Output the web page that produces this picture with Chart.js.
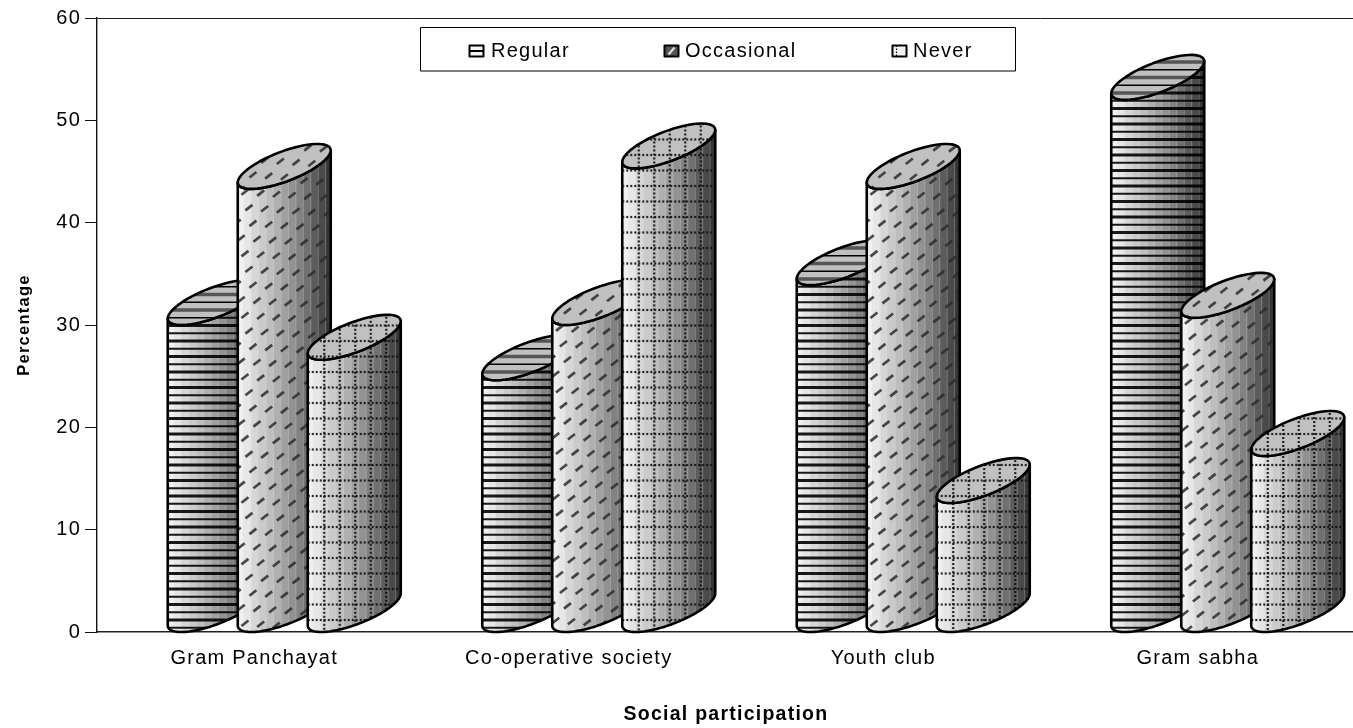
<!DOCTYPE html>
<html><head><meta charset="utf-8">
<script src="https://cdn.jsdelivr.net/npm/chart.js@4"></script>
<style>html,body{margin:0;padding:0;background:#fff;overflow:hidden;width:1353px;height:728px}canvas{display:block}</style>
</head><body><canvas id="c" width="1355" height="728"></canvas>
<script>
const categories = ["Gram Panchayat","Co-operative society","Youth club","Gram sabha"];
const regular = [30.0,24.6,33.9,52.0];
const occasional = [43.3,30.0,43.3,30.7];
const never = [26.6,45.3,12.6,17.2];
const seriesNames = ["Regular","Occasional","Never"];
const yTicks = [0,10,20,30,40,50,60];
const FONT = '"Liberation Sans", Arial, sans-serif';

function pattern(ctx, kind, x0, x1, y0, y1, top){
  ctx.save();
  ctx.setLineDash([]);
  ctx.lineCap='butt';
  if(kind===0){
    let i=Math.floor(y0/7.75);
    for(let y=i*7.75;y<y1;y+=7.75,i++){
      if(top){ctx.strokeStyle=i%2?'#000':'#555';ctx.lineWidth=i%2?1.6:3.4;}
      else {ctx.strokeStyle='#000';ctx.lineWidth=i%2?1.8:3;ctx.globalAlpha=.9;}
      ctx.beginPath();ctx.moveTo(x0,y);ctx.lineTo(x1,y);ctx.stroke();
    }
  } else if(kind===1){
    ctx.strokeStyle='#2c2c2c';ctx.lineWidth=2.7;ctx.globalAlpha=.85;
    let r=0;
    for(let y=y0+4;y<y1+12;y+=15.4,r++){
      for(let x=x0-12+(r%4)*4;x<x1+8;x+=15.7){
        const yy=y+(x-x0)*.07;
        ctx.beginPath();ctx.moveTo(x,yy);ctx.lineTo(x+7,yy-5.5);ctx.stroke();
      }
    }
  } else {
    ctx.strokeStyle='#111';ctx.lineWidth=2.2;ctx.setLineDash([2,2]);ctx.globalAlpha=.9;
    for(let y=Math.floor(y0/15.5)*15.5;y<y1;y+=15.5){ctx.beginPath();ctx.moveTo(x0,y);ctx.lineTo(x1,y);ctx.stroke();}
    for(let x=x0+16.5;x<x1;x+=15.5){ctx.beginPath();ctx.moveTo(x,y0);ctx.lineTo(x,y1);ctx.stroke();}
  }
  ctx.restore();
}

const cylinders = {
  id:'cylinders',
  beforeDraw(chart){ chart.ctx.letterSpacing='1.25px'; },
  afterDatasetsDraw(chart){
    const ctx=chart.ctx, ys=chart.scales.y;
    const W=93, a=W/2, sk=16, b=15.8, low=Math.hypot(sk,b);
    const base=ys.getPixelForValue(0);
    for(let c=0;c<categories.length;c++){
      for(let d=0;d<chart.data.datasets.length;d++){
        const el=chart.getDatasetMeta(d).data[c];
        const cx=el.x+30;
        const left=cx-a;
        const cyTop=el.y-low, cyBot=base-low;
        const ell=(cy,t)=>[cx+a*Math.cos(t), cy-sk*Math.cos(t)+b*Math.sin(t)];
        const trace=(cy,t0,t1,move)=>{
          const n=60;
          for(let i=0;i<=n;i++){const t=t0+(t1-t0)*i/n;const p=ell(cy,t);(i===0&&move)?ctx.moveTo(p[0],p[1]):ctx.lineTo(p[0],p[1]);}
        };
        const body=()=>{
          ctx.beginPath();
          trace(cyTop,Math.PI,0,true);
          trace(cyBot,0,Math.PI,false);
          ctx.closePath();
        };
        ctx.save();
        body();ctx.clip();
        const stops=[[0,240],[.06,230],[.14,214],[.22,202],[.30,190],[.38,176],[.46,160],[.54,146],[.62,130],[.70,112],[.78,92],[.86,74],[.94,54]];
        stops.forEach((s,i)=>{
          const x=left+s[0]*W, nx=(i+1<stops.length?left+stops[i+1][0]*W:left+W+1);
          const v=s[1];ctx.fillStyle=`rgb(${v},${v},${v})`;
          ctx.fillRect(x,0,nx-x+.5,ctx.canvas.height);
          ctx.fillStyle=`rgba(255,255,255,.25)`;
          ctx.fillRect(x,0,1,ctx.canvas.height);
        });
        pattern(ctx,d,left,left+W,el.y-60,base+2,false);
        ctx.restore();
        ctx.lineJoin='round';ctx.lineWidth=2.6;ctx.strokeStyle='#000';
        body();ctx.stroke();
        ctx.save();
        ctx.beginPath();trace(cyTop,0,Math.PI*2,true);ctx.closePath();
        ctx.fillStyle='#c0c0c0';ctx.fill();ctx.clip();
        pattern(ctx,d,left,left+W,cyTop-low-2,cyTop+low+2,true);
        ctx.restore();
        ctx.beginPath();trace(cyTop,0,Math.PI*2,true);ctx.closePath();ctx.stroke();
      }
    }
    ctx.save();
    ctx.fillStyle='#fff';ctx.strokeStyle='#000';ctx.lineWidth=1;
    ctx.fillRect(420.5,27.5,595,43.5);ctx.strokeRect(420.5,27.5,595,43.5);
    ctx.font='20px '+FONT;ctx.textBaseline='middle';ctx.textAlign='left';
    const pos=[[469,491],[664,685],[892,913]];
    seriesNames.forEach((n,i)=>{
      const x=pos[i][0]+.5,y=45.5;
      ctx.fillStyle=i===1?'#555':'#f4f4f4';ctx.fillRect(x,y,14,11);
      ctx.strokeStyle='#000';ctx.lineWidth=2;
      ctx.strokeRect(x,y,14,11);
      ctx.beginPath();
      if(i===0){ctx.lineWidth=2;ctx.moveTo(x,y+5.5);ctx.lineTo(x+14,y+5.5);}
      if(i===1){ctx.lineWidth=2.2;ctx.strokeStyle='#ddd';ctx.moveTo(x+4,y+9);ctx.lineTo(x+10,y+2);}
      if(i===2){ctx.lineWidth=1.2;ctx.setLineDash([1.5,1.5]);ctx.moveTo(x+4,y);ctx.lineTo(x+4,y+11);}
      ctx.stroke();ctx.setLineDash([]);
      ctx.fillStyle='#000';ctx.fillText(n,pos[i][1],51);
    });
    ctx.restore();
  }
};

new Chart(document.getElementById('c'),{
  type:'bar',
  data:{labels:categories,datasets:[
    {label:seriesNames[0],data:regular},
    {label:seriesNames[1],data:occasional},
    {label:seriesNames[2],data:never}
  ].map(d=>Object.assign(d,{backgroundColor:'transparent',borderWidth:0,barThickness:70}))},
  plugins:[cylinders],
  options:{
    responsive:false,animation:false,
    devicePixelRatio:1,
    layout:{padding:{left:0,right:0,top:18,bottom:0}},
    plugins:{legend:{display:false},tooltip:{enabled:false}},
    scales:{
      x:{
        grid:{display:true,drawOnChartArea:false,drawTicks:false,color:'transparent'},
        border:{display:true,color:'#222',width:1.4},
        ticks:{color:'#000',font:{family:FONT,size:20},padding:14,maxRotation:0},
        title:{display:true,text:'Social participation',color:'#000',font:{family:FONT,size:19.5,weight:'bold'},padding:{top:37,bottom:2}},
        afterFit(s){s.height=96;}
      },
      y:{
        min:0,max:60,
        afterBuildTicks(s){s.ticks=yTicks.map(v=>({value:v}));},
        grid:{color:c=>c.tick.value===60?'#222':'transparent',tickColor:'#111',tickLength:12,drawTicks:true},
        border:{display:true,color:'#111',width:1.4},
        ticks:{color:'#000',font:{family:FONT,size:20},padding:4},
        title:{display:true,text:'Percentage',color:'#000',font:{family:FONT,size:16.5,weight:'bold'},padding:{top:15,bottom:0}},
        afterFit(s){s.width=97;}
      }
    }
  }
});
</script></body></html>
